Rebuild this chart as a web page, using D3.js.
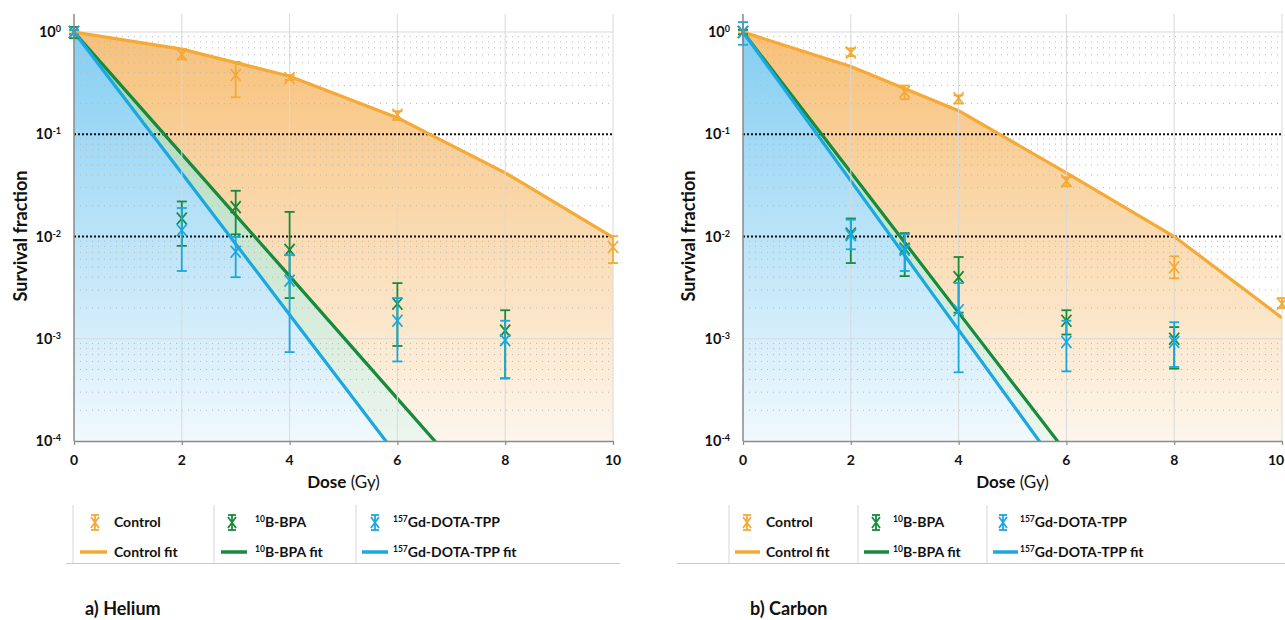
<!DOCTYPE html>
<html>
<head>
<meta charset="utf-8">
<script src="https://cdn.jsdelivr.net/npm/d3@7"></script>
<style>
  body { margin: 0; background: #fff; }
  text { font-family: Lato, "Open Sans", sans-serif; }
</style>
</head>
<body>
<svg id="chart" width="1285" height="620"></svg>
<script>
// Measured points: [dose, survival, error low, error high]
const heControl = [[0, 1, 0.97, 1.03], [2, 0.60, 0.54, 0.68], [3, 0.38, 0.23, 0.51], [4, 0.355, 0.34, 0.38], [6, 0.155, 0.138, 0.168], [10, 0.0079, 0.0055, 0.0101]];
const heBpa = [[0, 1, 0.87, 1.12], [2, 0.015, 0.0081, 0.022], [3, 0.0194, 0.0105, 0.028], [4, 0.0074, 0.0025, 0.0174], [6, 0.0022, 0.00085, 0.0035], [8, 0.0012, 0.00041, 0.0019]];
const heGd = [[0, 1, 0.95, 1.05], [2, 0.0115, 0.0046, 0.019], [3, 0.0071, 0.004, 0.0099], [4, 0.0037, 0.00074, 0.0066], [6, 0.0015, 0.0006, 0.0025], [8, 0.00097, 0.00041, 0.0015]];

const cControl = [[0, 1, 0.97, 1.03], [2, 0.63, 0.58, 0.69], [3, 0.26, 0.22, 0.30], [4, 0.225, 0.20, 0.24], [6, 0.035, 0.031, 0.038], [8, 0.005, 0.0039, 0.0064], [10, 0.0022, 0.002, 0.0025]];
const cBpa = [[0, 1, 0.95, 1.05], [2, 0.0107, 0.0055, 0.015], [3, 0.0076, 0.0041, 0.0108], [4, 0.004, 0.0018, 0.0063], [6, 0.0015, 0.0011, 0.0019], [8, 0.001, 0.00051, 0.0013]];
const cGd = [[0, 1, 0.75, 1.25], [2, 0.0103, 0.0075, 0.0146], [3, 0.0074, 0.0046, 0.0105], [4, 0.0019, 0.00047, 0.0035], [6, 0.00093, 0.00048, 0.0015], [8, 0.00093, 0.00053, 0.00145]];

// Fit curves at these doses
const fitDoses = [0, 2, 4, 6, 8, 10];
const heControlFit = [1, 0.68, 0.37, 0.145, 0.042, 0.0098];
const heBpaFit = [1, 0.064, 0.0041, 0.00026, 0.0000165];
const heGdFit = [1, 0.0415, 0.00172, 0.000071];
const cControlFit = [1, 0.46, 0.17, 0.042, 0.0100, 0.0016];
const cBpaFit = [1, 0.0425, 0.0018, 0.000077];
const cGdFit = [1, 0.035, 0.00122, 0.000043];

// Axes
const doseTicks = [0, 2, 4, 6, 8, 10];
const decadeExps = [0, -1, -2, -3, -4];

const colors = {control: '#f5a936', bpa: '#178a3c', gd: '#1ba8e0'};

const svg = d3.select('#chart');
const defs = svg.append('defs');

// Vertical gradients for the filled regions
function addGradient(id, top, bottom) {
    const g = defs.append('linearGradient')
        .attr('id', id)
        .attr('gradientUnits', 'userSpaceOnUse')
        .attr('x1', 0).attr('x2', 0).attr('y1', 30).attr('y2', 441);
    g.append('stop').attr('offset', 0).attr('stop-color', top);
    g.append('stop').attr('offset', 1).attr('stop-color', bottom);
}
addGradient('gradControl', '#f7c078', '#fdf6ec');
addGradient('gradBpa', '#a6d5b0', '#ecf6ee');
addGradient('gradGd', '#84cef2', '#f1f9fe');

function toPoints(values) {
    return values.map((v, i) => [fitDoses[i], v]);
}

function drawPanel(p) {
    const top = 14, bottom = 441;
    const x = d3.scaleLinear().domain([0, 10]).range([p.x0, p.x1]);
    const y = d3.scaleLog().domain([1e-4, 1.5]).range([bottom, top]);

    const chart = svg.append('g');

    // Clip to plot area
    defs.append('clipPath').attr('id', p.id + 'Clip')
        .append('rect')
        .attr('x', p.x0).attr('y', top)
        .attr('width', p.x1 - p.x0).attr('height', bottom - top);

    const plot = chart.append('g').attr('clip-path', 'url(#' + p.id + 'Clip)');

    // Fill areas under the fits
    const area = d3.area()
        .x(d => x(d[0]))
        .y0(bottom)
        .y1(d => y(d[1]));
    plot.append('path').attr('fill', 'url(#gradControl)').attr('d', area(toPoints(p.controlFit)));
    plot.append('path').attr('fill', 'url(#gradBpa)').attr('d', area(toPoints(p.bpaFit)));
    plot.append('path').attr('fill', 'url(#gradGd)').attr('d', area(toPoints(p.gdFit)));

    // Minor grid (dotted gray)
    const minor = [];
    for (let e = -4; e < 0; e++) {
        for (let m = 2; m <= 9; m++) minor.push(m * Math.pow(10, e));
    }
    plot.append('g').selectAll('line')
        .data(minor)
        .enter()
        .append('line')
            .attr('x1', p.x0).attr('x2', p.x1)
            .attr('y1', d => y(d)).attr('y2', d => y(d))
            .attr('stroke', '#b8b8b8')
            .attr('stroke-width', 1)
            .attr('stroke-dasharray', '1,5');

    // Vertical grid
    chart.append('g').selectAll('line')
        .data(doseTicks.slice(1))
        .enter()
        .append('line')
            .attr('x1', d => x(d)).attr('x2', d => x(d))
            .attr('y1', top).attr('y2', bottom)
            .attr('stroke', '#d9d9d9')
            .attr('stroke-width', 1);

    // Major horizontal grid: light solid at 1 and 1e-3, black dots at 0.1 and 0.01
    plot.append('g').selectAll('line')
        .data([1, 1e-3])
        .enter()
        .append('line')
            .attr('x1', p.x0).attr('x2', p.x1)
            .attr('y1', d => y(d)).attr('y2', d => y(d))
            .attr('stroke', '#d9d9d9')
            .attr('stroke-width', 1);
    plot.append('g').selectAll('line')
        .data([0.1, 0.01])
        .enter()
        .append('line')
            .attr('x1', p.x0).attr('x2', p.x1)
            .attr('y1', d => y(d)).attr('y2', d => y(d))
            .attr('stroke', '#111')
            .attr('stroke-width', 2)
            .attr('stroke-dasharray', '2,2');

    // Fit lines
    const line = d3.line()
        .x(d => x(d[0]))
        .y(d => y(d[1]));
    [['controlFit', colors.control], ['bpaFit', colors.bpa], ['gdFit', colors.gd]].forEach(f => {
        plot.append('path')
            .attr('fill', 'none')
            .attr('stroke', f[1])
            .attr('stroke-width', 3.2)
            .attr('d', line(toPoints(p[f[0]])));
    });

    // Error bars with x markers
    function drawPoints(data, color) {
        const g = chart.append('g')
            .attr('stroke', color)
            .attr('stroke-width', 1.8)
            .attr('fill', 'none');
        data.forEach(d => {
            const cx = x(d[0]), cy = y(d[1]);
            const yl = y(d[2]), yh = y(d[3]);
            g.append('line').attr('x1', cx).attr('x2', cx).attr('y1', yl).attr('y2', yh);
            g.append('line').attr('x1', cx - 5).attr('x2', cx + 5).attr('y1', yl).attr('y2', yl);
            g.append('line').attr('x1', cx - 5).attr('x2', cx + 5).attr('y1', yh).attr('y2', yh);
            g.append('path').attr('d', 'M' + (cx - 5) + ',' + (cy - 6) + 'L' + (cx + 5) + ',' + (cy + 6)
                + 'M' + (cx - 5) + ',' + (cy + 6) + 'L' + (cx + 5) + ',' + (cy - 6));
        });
    }
    drawPoints(p.control, colors.control);
    drawPoints(p.bpa, colors.bpa);
    drawPoints(p.gd, colors.gd);

    // Axis lines
    chart.append('line')
        .attr('x1', p.x0).attr('x2', p.x0).attr('y1', top).attr('y2', bottom)
        .attr('stroke', '#8a8a8a').attr('stroke-width', 1.5);
    const xAxis = d3.axisBottom(x).tickValues(doseTicks).tickSize(4).tickSizeOuter(0).tickFormat('');
    const xg = chart.append('g')
        .attr('transform', 'translate(0,' + bottom + ')')
        .call(xAxis);
    xg.select('.domain').attr('stroke', '#8a8a8a').attr('stroke-width', 1.5);
    xg.selectAll('.tick line').attr('stroke', '#8a8a8a').attr('stroke-width', 1.2);

    // X tick labels (keep the last one inside the window)
    chart.append('g').selectAll('text')
        .data(doseTicks)
        .enter()
        .append('text')
            .attr('x', d => Math.min(x(d), 1276))
            .attr('y', 465)
            .attr('text-anchor', 'middle')
            .attr('font-size', 14)
            .attr('font-weight', 700)
            .attr('fill', '#111')
            .text(d => d);

    // Y tick labels 10^n
    const yl = chart.append('g').selectAll('text')
        .data(decadeExps)
        .enter()
        .append('text')
            .attr('x', p.x0 - 13)
            .attr('y', d => y(Math.pow(10, d)) + 5)
            .attr('text-anchor', 'end')
            .attr('font-size', 14.5)
            .attr('font-weight', 700)
            .attr('fill', '#111');
    yl.append('tspan').text('10');
    yl.append('tspan').attr('dy', -5).attr('font-size', 9).text(d => d === 0 ? '0' : '-' + (-d));

    // Axis titles
    chart.append('text')
        .attr('transform', 'translate(' + p.yLabelX + ',236) rotate(-90)')
        .attr('text-anchor', 'middle')
        .attr('font-size', 18)
        .attr('font-weight', 700)
        .attr('fill', '#111')
        .text('Survival fraction');
    const xt = chart.append('text')
        .attr('x', x(5))
        .attr('y', 488)
        .attr('text-anchor', 'middle')
        .attr('font-size', 17)
        .attr('fill', '#111');
    xt.append('tspan').attr('font-weight', 700).text('Dose');
    xt.append('tspan').attr('font-weight', 400).text(' (Gy)');

    // Legend
    const lg = chart.append('g');
    p.legendSep.forEach(sx => {
        lg.append('line').attr('x1', sx).attr('x2', sx).attr('y1', 505).attr('y2', 563)
            .attr('stroke', '#d6d6d6').attr('stroke-width', 1);
    });
    lg.append('line').attr('x1', p.legendLine[0]).attr('x2', p.legendLine[1]).attr('y1', 563.5).attr('y2', 563.5)
        .attr('stroke', '#c8c8c8').attr('stroke-width', 1.2);

    const items = [
        {color: colors.control, sup: '', name: 'Control'},
        {color: colors.bpa, sup: '10', name: 'B-BPA'},
        {color: colors.gd, sup: '157', name: 'Gd-DOTA-TPP'}
    ];
    items.forEach((it, i) => {
        const sx = p.legendSym[i], tx = p.legendText[i];
        const s = lg.append('g').attr('stroke', it.color).attr('stroke-width', 1.8).attr('fill', 'none');
        s.append('line').attr('x1', sx).attr('x2', sx).attr('y1', 515).attr('y2', 530);
        s.append('line').attr('x1', sx - 4).attr('x2', sx + 4).attr('y1', 515).attr('y2', 515);
        s.append('line').attr('x1', sx - 4).attr('x2', sx + 4).attr('y1', 530).attr('y2', 530);
        s.append('path').attr('d', 'M' + (sx - 4) + ',517L' + (sx + 4) + ',528M' + (sx - 4) + ',528L' + (sx + 4) + ',517');
        lg.append('line')
            .attr('x1', p.legendFit[i][0]).attr('x2', p.legendFit[i][1])
            .attr('y1', 552).attr('y2', 552)
            .attr('stroke', it.color).attr('stroke-width', 3.5);
        [['', 527], [' fit', 557]].forEach(r => {
            const t = lg.append('text')
                .attr('x', tx).attr('y', r[1])
                .attr('font-size', 14).attr('font-weight', 700).attr('fill', '#111');
            if (it.sup) t.append('tspan').attr('font-size', 8.5).attr('dy', -5).text(it.sup);
            t.append('tspan').attr('dy', it.sup ? 5 : 0).text(it.name + r[0]);
        });
    });

    // Panel title
    chart.append('text')
        .attr('x', p.titleX).attr('y', 615)
        .attr('font-size', 18).attr('font-weight', 700).attr('fill', '#111')
        .text(p.title);
}

drawPanel({
    id: 'helium', title: 'a) Helium', titleX: 85,
    x0: 74, x1: 613, yLabelX: 27,
    control: heControl, bpa: heBpa, gd: heGd,
    controlFit: heControlFit, bpaFit: heBpaFit, gdFit: heGdFit,
    legendSep: [73, 214, 356], legendLine: [66, 620],
    legendSym: [95, 232, 375], legendText: [114, 255, 393],
    legendFit: [[80, 107], [221, 247], [362, 388]]
});

drawPanel({
    id: 'carbon', title: 'b) Carbon', titleX: 750,
    x0: 743, x1: 1282, yLabelX: 695,
    control: cControl, bpa: cBpa, gd: cGd,
    controlFit: cControlFit, bpaFit: cBpaFit, gdFit: cGdFit,
    legendSep: [729, 858, 987], legendLine: [677, 1285],
    legendSym: [747, 876, 1003], legendText: [766, 893, 1020],
    legendFit: [[735, 760], [864, 889], [993, 1018]]
});
</script>
</body>
</html>
